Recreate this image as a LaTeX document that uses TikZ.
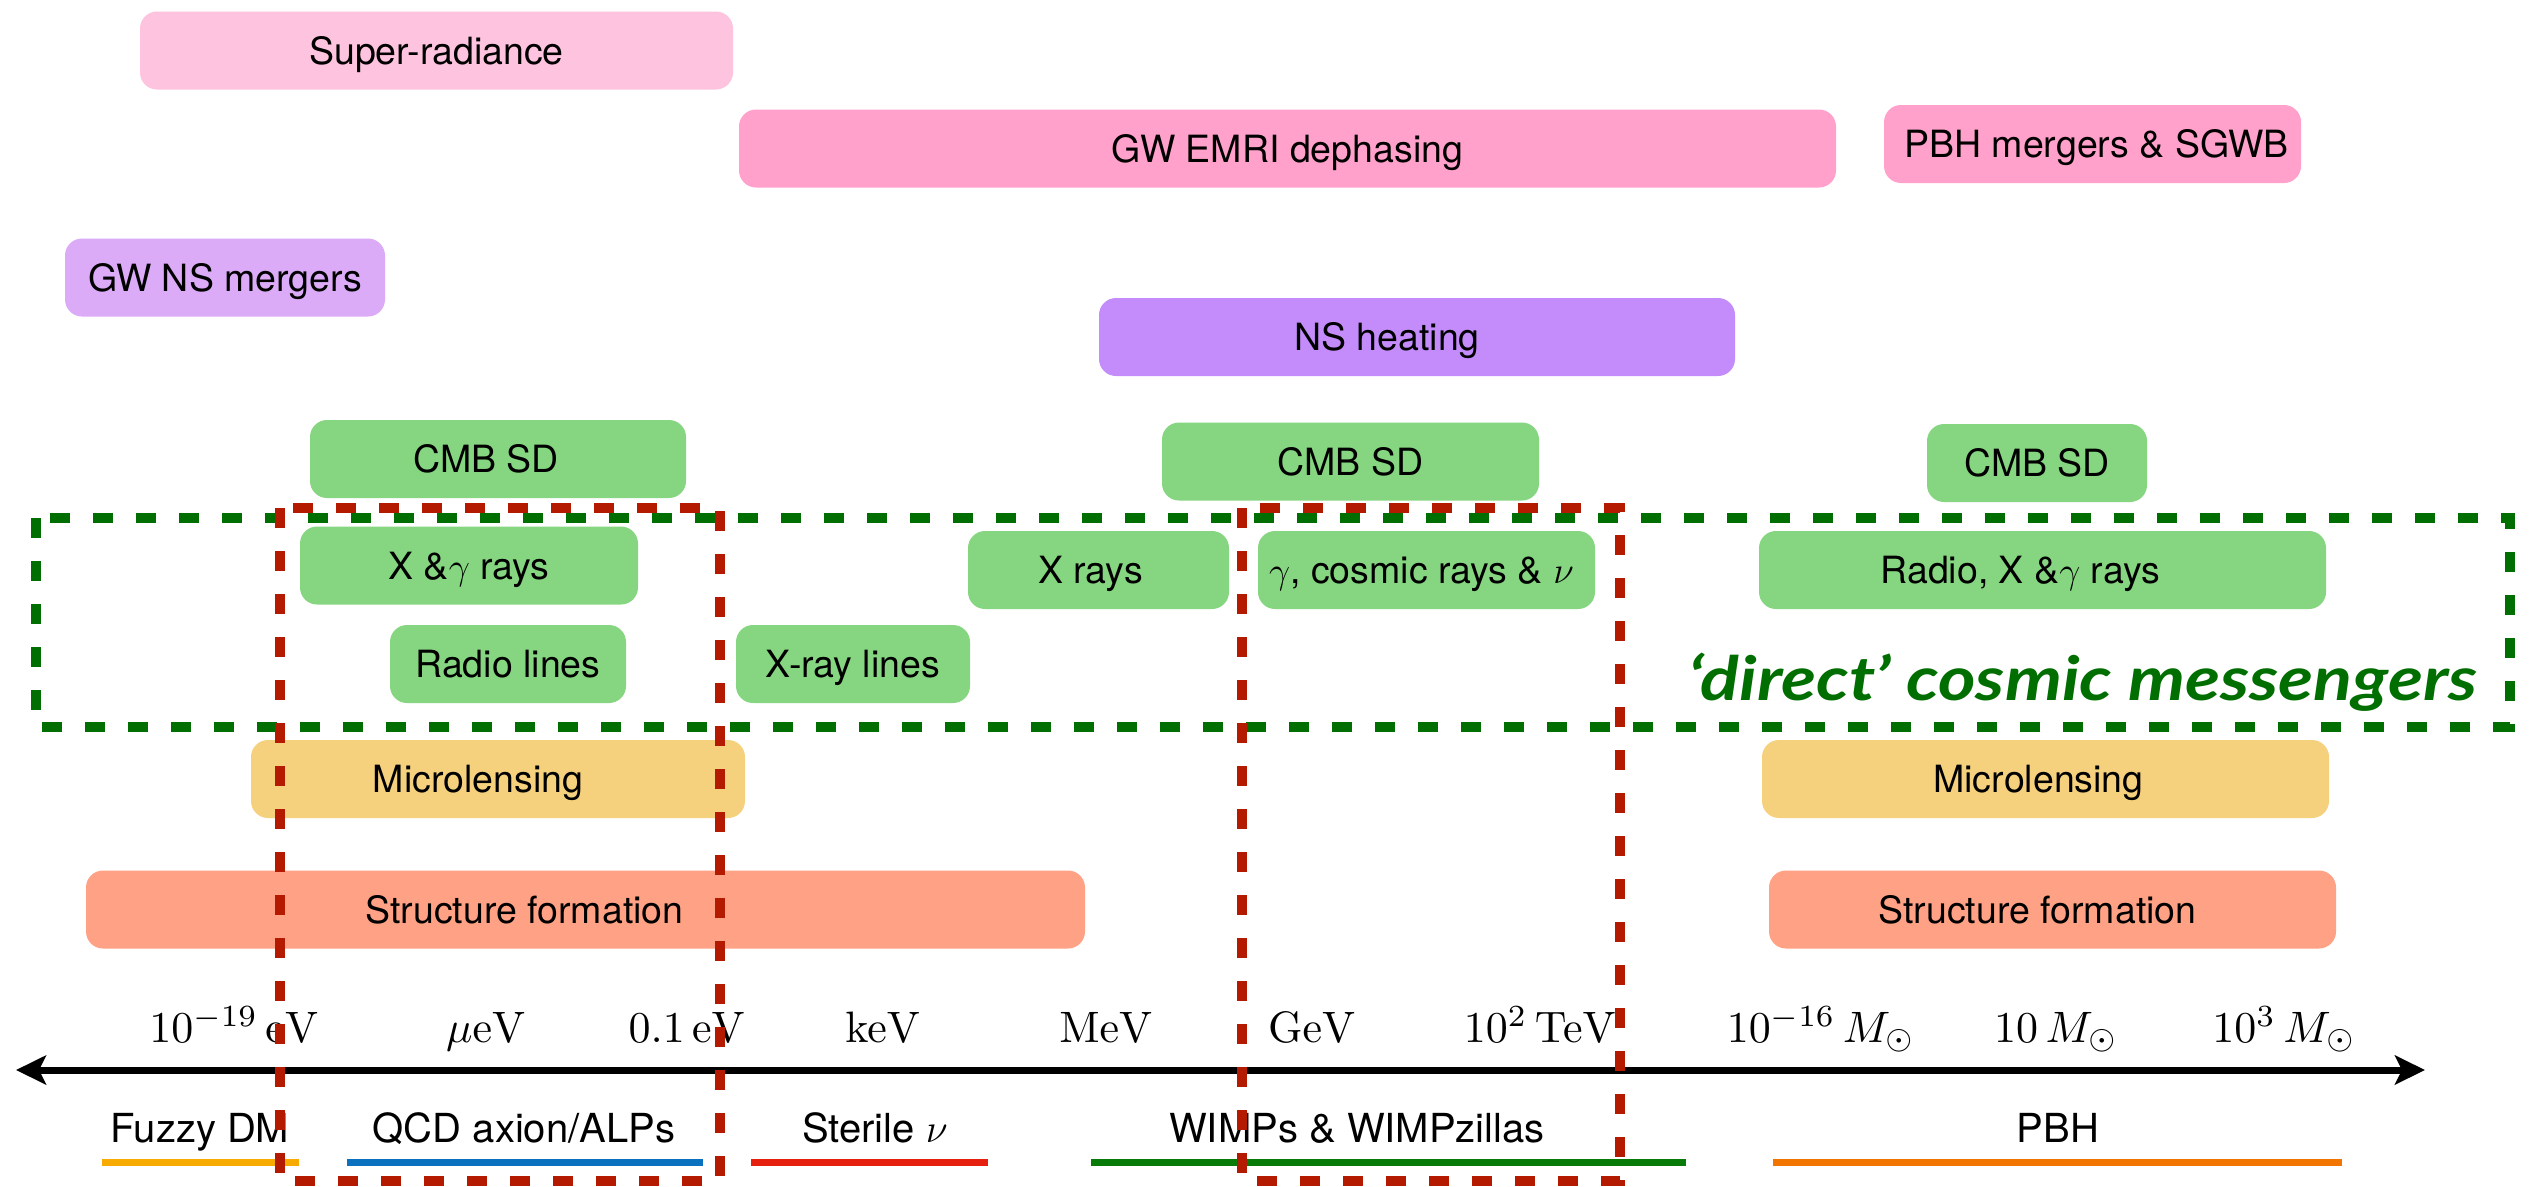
\RequirePackage{fix-cm}
\documentclass[tikz,border=0pt]{standalone}
\usepackage[no-math]{fontspec}
\newfontfamily\hv{TeX Gyre Heros}
\newfontfamily\dcm{Lato}
\usetikzlibrary{arrows.meta}
\definecolor{cSR}{HTML}{FEC3DF}
\definecolor{cGW}{HTML}{FFA1CB}
\definecolor{cNSm}{HTML}{DBABF7}
\definecolor{cNSh}{HTML}{C48CFA}
\definecolor{cGr}{HTML}{86D681}
\definecolor{cML}{HTML}{F5D17D}
\definecolor{cSF}{HTML}{FFA184}
\definecolor{cRed}{HTML}{B41A00}
\definecolor{cDG}{HTML}{006E00}
\definecolor{uFz}{HTML}{F7AB00}
\definecolor{uQCD}{HTML}{0B70BD}
\definecolor{uSt}{HTML}{E6200F}
\definecolor{uWI}{HTML}{087A08}
\definecolor{uPBH}{HTML}{F17500}
\newcommand{\axlab}[1]{\scalebox{4.4}{$#1$}}
\begin{document}
\begin{tikzpicture}[x=1pt,y=-1pt,
  bx/.style={rounded corners=17pt, inner sep=0pt, minimum height=78pt},
  bxt/.style={inner sep=0pt, text height=27pt, text depth=0pt, font=\hv\fontsize{37.5}{45}\selectfont},
  ax/.style={inner sep=0pt, anchor=base, font=\fontsize{10}{12}\selectfont},
  cat/.style={inner sep=0pt, anchor=base, font=\hv\fontsize{40}{48}\selectfont},
  uline/.style={line width=7pt},
  dbox/.style={line width=10pt, dash pattern=on 20pt off 23pt}]
\useasboundingbox (0,0) rectangle (2531,1186);
\fill[white] (0,0) rectangle (2531,1186);

% boxes
\node[bx, fill=cSR, minimum width=593pt, label={[bxt]center:Super-radiance}] (sr) at (436.5,50.5) {};
\node[bx, fill=cGW, minimum width=1097pt, label={[bxt]center:GW EMRI dephasing}] (emri) at (1287.5,148.5) {};
\node[bx, fill=cGW, minimum width=417pt, label={[bxt, xshift=4pt]center:PBH mergers \& SGWB}] (pbhm) at (2092.5,144) {};
\node[bx, fill=cNSm, minimum width=320pt, label={[bxt]center:GW NS mergers}] (nsm) at (225,277.5) {};
\node[bx, fill=cNSh, minimum width=636pt, label={[bxt, xshift=-30pt]center:NS heating}] (nsh) at (1417,337) {};
\node[bx, fill=cGr, minimum width=376pt, label={[bxt, xshift=-12pt]center:CMB SD}] (cmb1) at (498,459) {};
\node[bx, fill=cGr, minimum width=377pt, label={[bxt]center:CMB SD}] (cmb2) at (1350.5,461.5) {};
\node[bx, fill=cGr, minimum width=220pt, label={[bxt]center:CMB SD}] (cmb3) at (2037,463) {};
\node[bx, fill=cGr, minimum width=338pt, label={[bxt]center:X \&$\gamma$ rays}] (xg) at (469,565.5) {};
\node[bx, fill=cGr, minimum width=261pt, label={[bxt, xshift=-8pt]center:X rays}] (xr) at (1098.5,570) {};
\node[bx, fill=cGr, minimum width=337pt, label={[bxt, xshift=-5pt]center:$\gamma$, cosmic rays \& $\nu$}] (gcr) at (1426.5,570) {};
\node[bx, fill=cGr, minimum width=567pt, label={[bxt, xshift=-22pt]center:Radio, X \&$\gamma$ rays}] (rxg) at (2042.5,570) {};
\node[bx, fill=cGr, minimum width=236pt, label={[bxt]center:Radio lines}] (rl) at (508,664) {};
\node[bx, fill=cGr, minimum width=234pt, label={[bxt]center:X-ray lines}] (xl) at (853,664) {};
\node[bx, fill=cML, minimum width=494pt, label={[bxt, xshift=-20pt]center:Microlensing}] (ml1) at (498,779) {};
\node[bx, fill=cML, minimum width=567pt, label={[bxt, xshift=-7pt]center:Microlensing}] (ml2) at (2045.5,779) {};
\node[bx, fill=cSF, minimum width=999pt, label={[bxt, xshift=-61pt]center:Structure formation}] (sf1) at (585.5,909.5) {};
\node[bx, fill=cSF, minimum width=567pt, label={[bxt, xshift=-15pt]center:Structure formation}] (sf2) at (2052.5,909.5) {};

% axis
\coordinate (axl) at (16,1070);
\coordinate (axr) at (2425,1070);
\draw[line width=7pt, {Stealth[length=30pt,width=29pt,inset=7pt]}-{Stealth[length=30pt,width=29pt,inset=7pt]}] (axl) -- (axr);

\node[ax] (t1) at (234,1042) {\axlab{10^{-19}\,\mathrm{eV}}};
\node[ax] (t2) at (486,1042) {\axlab{\mu\mathrm{eV}}};
\node[ax] (t3) at (687,1042) {\axlab{0.1\,\mathrm{eV}}};
\node[ax] (t4) at (883,1042) {\axlab{\mathrm{keV}}};
\node[ax] (t5) at (1106,1042) {\axlab{\mathrm{MeV}}};
\node[ax] (t6) at (1312,1042) {\axlab{\mathrm{GeV}}};
\node[ax] (t7) at (1540,1042) {\axlab{10^2\,\mathrm{TeV}}};
\node[ax] (t8) at (1821,1042) {\axlab{10^{-16}\,M_\odot}};
\node[ax] (t9) at (2056,1042) {\axlab{10\,M_\odot}};
\node[ax] (t10) at (2284,1042) {\axlab{10^3\,M_\odot}};

% categories
\node[cat] (c1) at (200,1142) {Fuzzy DM};
\node[cat] (c2) at (524,1142) {QCD axion/ALPs};
\node[cat] (c3) at (875,1142) {Sterile $\nu$};
\node[cat] (c4) at (1357,1142) {WIMPs \& WIMPzillas};
\node[cat] (c5) at (2058,1142) {PBH};
\coordinate (u1a) at (102,1162); \coordinate (u1b) at (299,1162);
\coordinate (u2a) at (347,1162); \coordinate (u2b) at (703,1162);
\coordinate (u3a) at (751,1162); \coordinate (u3b) at (988,1162);
\coordinate (u4a) at (1091,1162); \coordinate (u4b) at (1686,1162);
\coordinate (u5a) at (1773,1162); \coordinate (u5b) at (2342,1162);
\draw[uline, uFz] (u1a) -- (u1b);
\draw[uline, uQCD] (u2a) -- (u2b);
\draw[uline, uSt] (u3a) -- (u3b);
\draw[uline, uWI] (u4a) -- (u4b);
\draw[uline, uPBH] (u5a) -- (u5b);

% dashed frames
\coordinate (g1) at (36,518); \coordinate (g2) at (2510,727);
\draw[dbox, cDG] (g1) rectangle (g2);
\node[inner sep=0pt, anchor=base, text=cDG, font=\dcm\bfseries\itshape\fontsize{61}{70}\selectfont] (dcmt) at (2083,700) {\scalebox{1.18}[1]{‘direct’ cosmic messengers}};
\coordinate (r1a) at (280,508); \coordinate (r1b) at (720,1181);
\coordinate (r2a) at (1242,508); \coordinate (r2b) at (1620,1181);
\draw[dbox, cRed] (r1a) rectangle (r1b);
\draw[dbox, cRed] (r2a) rectangle (r2b);
\end{tikzpicture}
\end{document}
